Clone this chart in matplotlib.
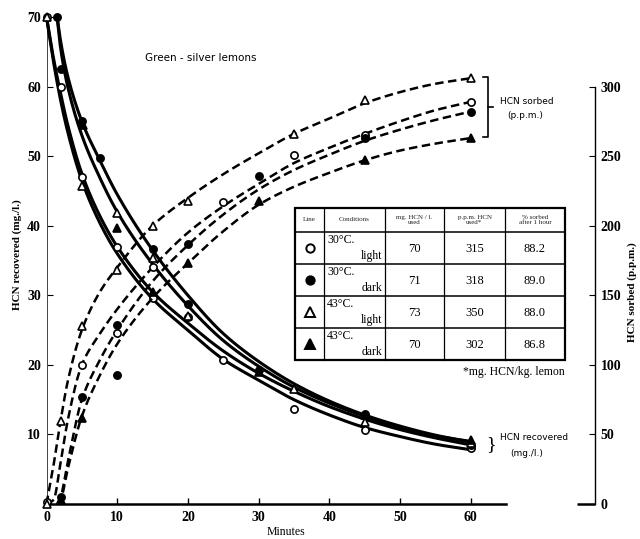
import numpy as np
import matplotlib
matplotlib.use("Agg")
import matplotlib.pyplot as plt

# ---- series labels / table contents ----
series = ["30°C. light", "30°C. dark", "43°C. light", "43°C. dark"]
temps = ["30°C.", "30°C.", "43°C.", "43°C."]
lights = ["light", "dark", "light", "dark"]
mg_used = ["70", "71", "73", "70"]
ppm_used = ["315", "318", "350", "302"]
pct_sorbed = ["88.2", "89.0", "88.0", "86.8"]
markers = ["o", "o", "^", "^"]
filled = [False, True, False, True]

# ---- HCN recovered (mg./l.): smooth curves ----
rec_t_light = [0, 1, 2, 3, 5, 7.5, 10, 15, 20, 25, 30, 35, 40, 45, 50, 55, 60]
rec_t_dark = [1.5, 2, 3, 5, 7.5, 10, 15, 20, 25, 30, 35, 40, 45, 50, 55, 60]
rec_curve_30l = [70, 63.5, 58, 53.5, 46.5, 40.5, 36, 29.5, 25, 20.8, 17.8, 15, 12.8, 11, 9.7, 8.6, 7.8]
rec_curve_43l = [70, 64, 59, 54.5, 47.5, 41.5, 37, 30.5, 26, 22, 18.8, 16.2, 14, 12.2, 10.7, 9.5, 8.5]
rec_curve_30d = [70, 66.5, 61.5, 55, 49.5, 44.5, 36.5, 30, 24.5, 20.5, 17.3, 14.8, 12.8, 11.2, 9.9, 8.9]
rec_curve_43d = [70, 65.5, 60, 53, 47, 42, 34.5, 28.5, 23.5, 19.8, 16.8, 14.5, 12.6, 11, 9.8, 9.0]

# ---- HCN recovered: observations ----
rec_pts_30l_t = [0, 2, 5, 10, 15, 20, 25, 35, 45, 60]
rec_pts_30l_v = [70, 60, 47, 37, 29.6, 26.9, 20.7, 13.7, 10.6, 8.0]
rec_pts_30d_t = [1.5, 2, 5, 7.5, 15, 20, 30, 45, 60]
rec_pts_30d_v = [70, 62.5, 55, 49.7, 36.7, 28.8, 19.3, 13.0, 8.5]
rec_pts_43l_t = [0, 5, 10, 15, 20, 35, 45, 60]
rec_pts_43l_v = [70, 45.7, 41.8, 35.3, 27, 16.6, 11.8, 8.7]
rec_pts_43d_t = [5.2, 10, 15, 30, 45, 60]
rec_pts_43d_v = [54.5, 39.6, 30.5, 19, 12.8, 9.2]

# ---- HCN sorbed (p.p.m.): smooth curves ----
sor_t_30l = [0, 1, 2, 3, 5, 7.5, 10, 15, 20, 25, 30, 35, 40, 45, 50, 55, 60]
sor_curve_30l = [0, 3, 30, 60, 100, 122, 140, 170, 195, 214, 230, 245, 256, 266, 275, 283, 289]
sor_t_43l = [0, 1, 2, 3, 5, 7.5, 10, 15, 20, 25, 30, 35, 40, 45, 50, 55, 60]
sor_curve_43l = [0, 28, 60, 88, 125, 152, 170, 200, 220, 237, 252, 266, 277, 288, 296, 302, 306]
sor_t_dark = [1.5, 2, 3, 5, 7.5, 10, 15, 20, 25, 30, 35, 40, 45, 50, 55, 60]
sor_curve_30d = [0, 5, 30, 75, 103, 125, 160, 186, 208, 226, 240, 251, 261, 269, 276, 282]
sor_curve_43d = [0, 3, 25, 63, 92, 115, 148, 173, 196, 215, 228, 238, 247, 254, 259, 263]

# ---- HCN sorbed: observations ----
sor_pts_30l_t = [0, 5, 10, 15, 25, 35, 45, 60]
sor_pts_30l_v = [1.5, 100, 123, 170, 217, 251, 265, 289]
sor_pts_30d_t = [2, 5, 10, 10, 20, 30, 45, 60]
sor_pts_30d_v = [5, 77, 129, 93, 187, 236, 263, 282]
sor_pts_43l_t = [0, 2, 5, 10, 15, 20, 35, 45, 60]
sor_pts_43l_v = [0, 60, 128, 168, 200, 218, 266, 290, 306]
sor_pts_43d_t = [2, 5, 20, 30, 45, 60]
sor_pts_43d_v = [3, 62, 173, 218, 247, 263]

x_ticks = [0, 10, 20, 30, 40, 50, 60]
left_ticks = [10, 20, 30, 40, 50, 60, 70]
right_ticks = [0, 50, 100, 150, 200, 250, 300]


def pchip(x, y, xs):
    """Monotone piecewise cubic Hermite curve through (x, y)."""
    x = np.asarray(x, float)
    y = np.asarray(y, float)
    h = np.diff(x)
    d = np.diff(y) / h
    m = np.zeros_like(y)
    for k in range(1, len(x) - 1):
        if d[k - 1] * d[k] > 0:
            w1 = 2 * h[k] + h[k - 1]
            w2 = h[k] + 2 * h[k - 1]
            m[k] = (w1 + w2) / (w1 / d[k - 1] + w2 / d[k])
    m[0] = d[0]
    m[-1] = d[-1]
    idx = np.clip(np.searchsorted(x, xs) - 1, 0, len(x) - 2)
    t = (xs - x[idx]) / h[idx]
    h00 = 2 * t**3 - 3 * t**2 + 1
    h10 = t**3 - 2 * t**2 + t
    h01 = -2 * t**3 + 3 * t**2
    h11 = t**3 - t**2
    return (h00 * y[idx] + h10 * h[idx] * m[idx]
            + h01 * y[idx + 1] + h11 * h[idx] * m[idx + 1])


W, H = 640, 539
fig = plt.figure(figsize=(W / 100, H / 100), dpi=100)
fig.patch.set_facecolor("white")

x0, x1 = 46.5, 595.0
y0, y1 = 504.0, 17.0
ax = fig.add_axes([x0 / W, 1 - y0 / H, (x1 - x0) / W, (y0 - y1) / H])
ax.set_xlim(0, 77.6)
ax.set_ylim(0, 70)
ax2 = ax.twinx()
ax2.set_ylim(0, 350)

num_font = dict(family="Liberation Serif", size=10, weight="bold")

for a in (ax, ax2):
    a.patch.set_visible(False)
    for s in a.spines.values():
        s.set_visible(False)

ax.spines["left"].set_visible(True)
ax.spines["left"].set_bounds(0, 70)
ax.spines["left"].set_linewidth(0.7)
ax.spines["left"].set_color("#444444")
ax.spines["bottom"].set_visible(True)
ax.spines["bottom"].set_bounds(0, 65)
ax.spines["bottom"].set_linewidth(1.8)
ax2.spines["right"].set_visible(True)
ax2.spines["right"].set_bounds(0, 300)
ax2.spines["right"].set_linewidth(1.0)

ax.set_xticks(x_ticks)
ax.set_xticklabels([str(v) for v in x_ticks], fontdict=num_font)
ax.set_yticks(left_ticks)
ax.set_yticklabels([str(v) for v in left_ticks], fontdict=num_font)
ax2.set_yticks(right_ticks)
ax2.set_yticklabels([str(v) for v in right_ticks], fontdict=num_font)
ax.tick_params(axis="x", direction="in", length=4, width=1.0, pad=5)
ax.tick_params(axis="y", direction="in", length=4, width=0.8, pad=4)
ax2.tick_params(axis="y", direction="in", length=4, width=0.8, pad=4)

# short base stroke at the foot of the right-hand scale
ax.plot([75.0, 77.6], [0, 0], color="black", lw=1.8, clip_on=False, solid_capstyle="butt")

# recovered curves (solid)
for tt, vv in [(rec_t_light, rec_curve_30l), (rec_t_light, rec_curve_43l),
               (rec_t_dark, rec_curve_30d), (rec_t_dark, rec_curve_43d)]:
    xs = np.linspace(tt[0], tt[-1], 400)
    ax.plot(xs, pchip(tt, vv, xs), color="black", lw=2.2, clip_on=False,
            solid_capstyle="round", zorder=3)

# sorbed curves (dashed)
for tt, vv in [(sor_t_30l, sor_curve_30l), (sor_t_43l, sor_curve_43l),
               (sor_t_dark, sor_curve_30d), (sor_t_dark, sor_curve_43d)]:
    xs = np.linspace(tt[0], tt[-1], 400)
    ax2.plot(xs, pchip(tt, vv, xs), color="black", lw=1.8, ls=(0, (3.4, 1.8)),
             clip_on=False, zorder=3)


def draw_pts(a, t, v, mk, fill):
    a.plot(t, v, ls="none", marker=mk, ms=5.2 if mk == "o" else 5.6,
           mfc="black" if fill else "white", mec="black", mew=1.2,
           clip_on=False, zorder=5)


rec_pts = [(rec_pts_30l_t, rec_pts_30l_v), (rec_pts_30d_t, rec_pts_30d_v),
           (rec_pts_43l_t, rec_pts_43l_v), (rec_pts_43d_t, rec_pts_43d_v)]
sor_pts = [(sor_pts_30l_t, sor_pts_30l_v), (sor_pts_30d_t, sor_pts_30d_v),
           (sor_pts_43l_t, sor_pts_43l_v), (sor_pts_43d_t, sor_pts_43d_v)]
for i in range(4):
    draw_pts(ax, *rec_pts[i], markers[i], filled[i])
    draw_pts(ax2, *sor_pts[i], markers[i], filled[i])

# ---- overlay in pixel units for labels, table and brackets ----
ov = fig.add_axes([0, 0, 1, 1], zorder=10)
ov.set_xlim(0, W)
ov.set_ylim(H, 0)
ov.axis("off")
ov.patch.set_visible(False)

sans = "DejaVu Sans"
serif = "Liberation Serif"

ov.text(201, 58, "Green - silver lemons", family=sans, size=7.5, ha="center", va="center")
ov.text(17, 255, "HCN recovered (mg./l.)", family=serif, weight="bold", size=8,
        rotation=90, ha="center", va="center")
ov.text(632, 292, "HCN sorbed (p.p.m.)", family=serif, weight="bold", size=8,
        rotation=90, ha="center", va="center")
ov.text(286, 532, "Minutes", family=serif, size=8.5, ha="center", va="center")

# bracket for the sorbed group
ov.plot([483, 488, 488, 483], [77, 77, 137, 137], color="black", lw=1.2)
ov.plot([488, 493], [107, 107], color="black", lw=1.2)
ov.text(527, 101, "HCN sorbed", family=sans, size=6.5, ha="center", va="center")
ov.text(525, 116, "(p.p.m.)", family=sans, size=6.5, ha="center", va="center")

# brace for the recovered group
ov.text(491, 445, "}", family=serif, size=14, ha="center", va="center")
ov.text(534, 438, "HCN recovered", family=sans, size=6.5, ha="center", va="center")
ov.text(527, 453, "(mg./l.)", family=sans, size=6.5, ha="center", va="center")

# ---- table ----
col_edges = [295, 324, 385, 444, 505, 565]
row_edges = [207.7, 231.7, 264, 296, 328, 360]
ov.add_patch(plt.Rectangle((col_edges[0], row_edges[0]),
                           col_edges[-1] - col_edges[0], row_edges[-1] - row_edges[0],
                           facecolor="white", edgecolor="black", lw=1.6, zorder=11))
for cx in col_edges[1:-1]:
    ov.plot([cx, cx], [row_edges[0], row_edges[-1]], color="black", lw=0.9, zorder=12)
for ry in row_edges[1:-1]:
    ov.plot([col_edges[0], col_edges[-1]], [ry, ry], color="black", lw=1.1, zorder=12)

headers = ["Line", "Conditions", "mg. HCN / l.\nused", "p.p.m. HCN\nused*", "% sorbed\nafter 1 hour"]
for j, hd in enumerate(headers):
    cx = 0.5 * (col_edges[j] + col_edges[j + 1])
    cy = 0.5 * (row_edges[0] + row_edges[1])
    ov.text(cx, cy, hd, family=serif, size=5, ha="center", va="center",
            linespacing=1.0, color="#222222", zorder=13)

for i in range(4):
    top, bot = row_edges[i + 1], row_edges[i + 2]
    cy = 0.5 * (top + bot)
    ov.plot([0.5 * (col_edges[0] + col_edges[1])], [cy], marker=markers[i],
            ms=6.0 if markers[i] == "o" else 6.5,
            mfc="black" if filled[i] else "white", mec="black", mew=1.4, zorder=13)
    ov.text(col_edges[1] + 3, top + 8, temps[i], family=serif, size=8.5,
            ha="left", va="center", zorder=13)
    ov.text(col_edges[2] - 3, bot - 8, lights[i], family=serif, size=8.5,
            ha="right", va="center", zorder=13)
    for j, val in enumerate([mg_used[i], ppm_used[i], pct_sorbed[i]]):
        cx = 0.5 * (col_edges[j + 2] + col_edges[j + 3])
        ov.text(cx, cy + 1, val, family=serif, size=9, ha="center", va="center", zorder=13)

ov.text(565, 372, "*mg. HCN/kg. lemon", family=serif, size=8.5, ha="right", va="center")

fig.savefig("out.png", dpi=100, facecolor="white")
